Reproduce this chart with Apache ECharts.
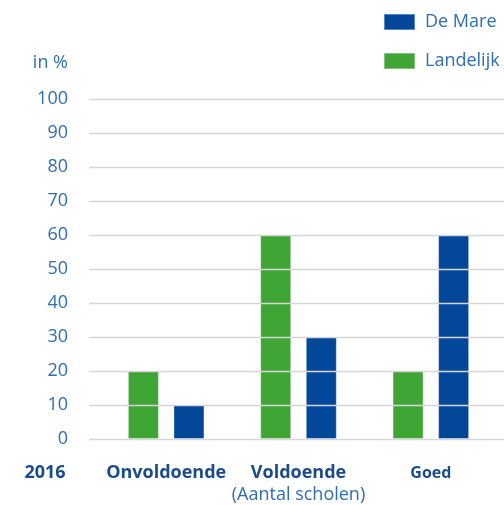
<!DOCTYPE html>
<html>
<head>
<meta charset="utf-8">
<script src="https://cdn.jsdelivr.net/npm/echarts@6/dist/echarts.min.js"></script>
<style>html,body{margin:0;padding:0;background:#fff}#c{width:504px;height:505px}</style>
</head>
<body>
<div id="c"></div>
<script>
var categories = ['Onvoldoende', 'Voldoende', 'Goed'];
var landelijk = [20, 60, 20];
var deMare = [10, 30, 60];
var yTicks = [0, 100, 10];
var yearLabel = '2016';
var unitLabel = 'in %';
var subLabel = '(Aantal scholen)';

var FONT = '"Open Sans", sans-serif';
var LIGHT = '#2f6db5';
var DARK = '#1c4b8c';
var BLUE = '#02479a';
var GREEN = '#3fa535';

var chart = echarts.init(document.getElementById('c'));
chart.setOption({
  animation: false,
  textStyle: { fontFamily: FONT },
  legend: {
    orient: 'vertical',
    left: 383, top: 13, padding: 0,
    itemWidth: 31, itemHeight: 16, itemGap: 21,
    icon: 'rect',
    data: ['De Mare', 'Landelijk'],
    textStyle: { fontFamily: FONT, fontSize: 18, color: LIGHT, lineHeight: 16, padding: [0, 0, 0, 5] }
  },
  graphic: [
    { type: 'text', style: { text: unitLabel, x: 68, y: 63, align: 'right', verticalAlign: 'middle', font: '18px ' + FONT, fill: LIGHT } },
    { type: 'text', style: { text: yearLabel, x: 45, y: 473, align: 'center', verticalAlign: 'middle', font: 'bold 18px ' + FONT, fill: DARK } }
  ],
  grid: [
    { left: 100, right: 7, top: 99, bottom: 66 },
    { left: 89, right: 0, top: 99, bottom: 66 }
  ],
  xAxis: [
    {
      type: 'category', gridIndex: 0, data: categories,
      axisLine: { show: false }, axisTick: { show: false },
      axisLabel: {
        interval: 0, hideOverlap: false,
        margin: 23,
        formatter: function (v) {
          if (v === 'Goed') return '{g|' + v + '}';
          if (v === 'Voldoende') return '{b|' + v + '}\n{n|' + subLabel + '}';
          return '{b|' + v + '}';
        },
        rich: {
          b: { fontFamily: FONT, fontSize: 18, fontWeight: 'bold', color: DARK, lineHeight: 22 },
          g: { fontFamily: FONT, fontSize: 16, fontWeight: 'bold', color: DARK, lineHeight: 22 },
          n: { fontFamily: FONT, fontSize: 18, color: LIGHT, lineHeight: 22 }
        }
      }
    },
    { type: 'category', gridIndex: 1, data: categories, show: false }
  ],
  yAxis: [
    { type: 'value', gridIndex: 0, min: yTicks[0], max: yTicks[1], interval: yTicks[2], show: false },
    {
      type: 'value', gridIndex: 1, min: yTicks[0], max: yTicks[1], interval: yTicks[2], z: 10,
      axisLine: { show: false }, axisTick: { show: false },
      axisLabel: { margin: 21, fontFamily: FONT, fontSize: 18, color: LIGHT },
      splitLine: { show: true, lineStyle: { color: '#d6d6d6', width: 1.3 } }
    }
  ],
  series: [
    {
      name: 'Landelijk', type: 'bar', xAxisIndex: 0, yAxisIndex: 0, data: landelijk,
      barWidth: 31, barGap: '47%',
      itemStyle: { color: GREEN, borderColor: 'rgba(255,255,255,0.35)', borderWidth: 1 }
    },
    {
      name: 'De Mare', type: 'bar', xAxisIndex: 0, yAxisIndex: 0, data: deMare,
      barWidth: 31, barGap: '47%',
      itemStyle: { color: BLUE, borderColor: 'rgba(255,255,255,0.35)', borderWidth: 1 }
    }
  ]
});
</script>
</body>
</html>
